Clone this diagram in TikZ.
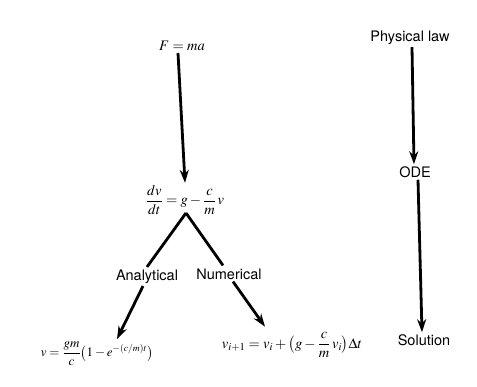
\documentclass[tikz,border=0pt]{standalone}
\usepackage{fontspec}
\usepackage{amsmath}
\usepackage{mathptmx}
\newfontfamily\labelfont{TeX Gyre Heros}
\usetikzlibrary{arrows.meta}
\tikzset{
  lbl/.style={font=\labelfont\fontsize{14.5}{17}\selectfont, inner sep=2pt},
  eqn/.style={font=\fontsize{14.5}{17}\selectfont, inner sep=2pt},
  flow/.style={line width=2.8pt, -{Stealth[length=13pt,width=9pt]}},
  branch/.style={line width=2.8pt}
}
\begin{document}
\begin{tikzpicture}[x=1pt,y=-1pt]
\useasboundingbox (0,0) rectangle (477,387);
\fill[white] (0,0) rectangle (477,387);
% left column
\node[eqn] (fma) at (182,46) {$F = ma$};
\node[eqn] (ode1) at (185,200) {$\dfrac{dv}{dt} = g - \dfrac{c}{m}\,v$};
\coordinate (apex) at (186,213);
\node[lbl] (anal) at (147,277) {Analytical};
\node[lbl] (num) at (229,274) {Numerical};
\node[eqn, font=\fontsize{13}{16}\selectfont] (sola) at (97,354) {$v = \dfrac{gm}{c}\bigl(1 - e^{-(c/m)t}\bigr)$};
\node[eqn] (solb) at (292,345) {$v_{i+1} = v_i + \bigl(g - \dfrac{c}{m}\,v_i\bigr)\Delta t$};
% right column
\node[lbl] (phys) at (410,38) {Physical law};
\node[lbl] (ode) at (415,172) {ODE};
\node[lbl] (sol) at (424,340) {Solution};
% connectors
\draw[flow] ([xshift=-4pt]fma.south) -- (ode1.north);
\draw[branch] (apex) -- ([yshift=1pt]anal.north);
\draw[branch] (apex) -- ([xshift=-6pt,yshift=1pt]num.north);
\draw[flow] ([xshift=-4pt]anal.south) -- ([xshift=20pt,yshift=1pt]sola.north);
\draw[flow] ([xshift=4pt]num.south) -- ([xshift=-27pt,yshift=3pt]solb.north);
\draw[flow] ([xshift=2pt]phys.south) -- ([xshift=-1pt]ode.north);
\draw[flow] ([xshift=3pt]ode.south) -- ([xshift=-2pt]sol.north);
\end{tikzpicture}
\end{document}
